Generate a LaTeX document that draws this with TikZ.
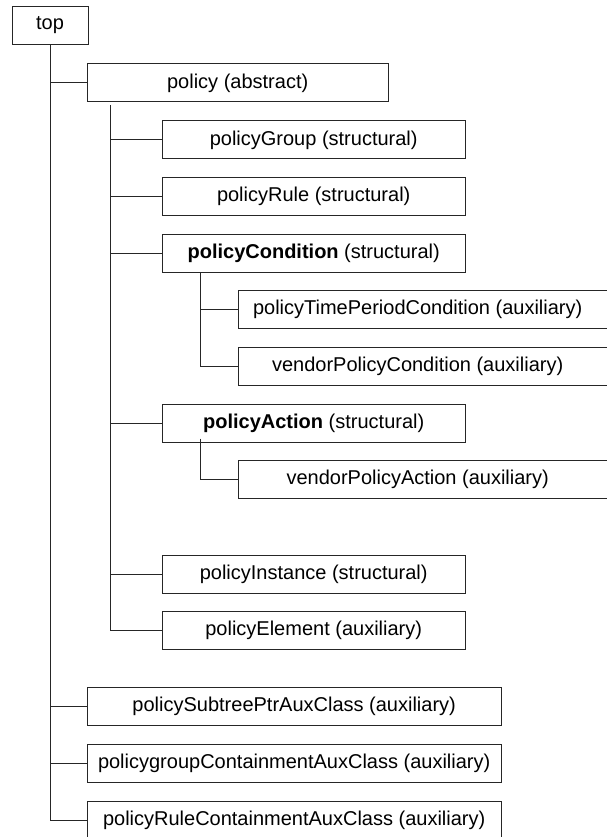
\documentclass[tikz,border=0pt]{standalone}
\usepackage{fontspec}
\setmainfont{Liberation Sans}
\begin{document}
\begin{tikzpicture}[x=1pt,y=-1pt,
  cls/.style={draw=black!85, line width=0.9pt, inner sep=0pt, minimum height=38pt,
              font=\fontsize{20}{24}\selectfont, text=black},
  lvlone/.style={cls, minimum width=413.7pt},
  lvltwo/.style={cls, minimum width=302.7pt},
  lvlthree/.style={cls, minimum width=370.7pt, execute at end node=\hspace*{12pt}},
  link/.style={draw=black!85, line width=0.9pt}]
\useasboundingbox (0,0) rectangle (607,837);
\clip (0,0) rectangle (607,837);

% root and first level
\node[cls, minimum width=76pt] (top) at (50,25) {top};
\node[cls, minimum width=300.7pt] (policy) at (237.7,82.9) {policy (abstract)};
\node[lvlone] (subtree) at (294.2,706) {policySubtreePtrAuxClass (auxiliary)};
\node[lvlone] (grpcont) at (294.2,763) {policygroupContainmentAuxClass (auxiliary)};
\node[lvlone] (rulecont) at (294.2,820) {policyRuleContainmentAuxClass (auxiliary)};

% second level
\node[lvltwo] (group) at (313.7,139.9) {policyGroup (structural)};
\node[lvltwo] (rule) at (313.7,196) {policyRule (structural)};
\node[lvltwo] (cond) at (313.7,253) {\textbf{policyCondition} (structural)};
\node[lvltwo] (action) at (313.7,423) {\textbf{policyAction} (structural)};
\node[lvltwo] (inst) at (313.7,574.2) {policyInstance (structural)};
\node[lvltwo] (elem) at (313.7,630.7) {policyElement (auxiliary)};

% third level
\node[lvlthree] (timecond) at (423.7,309.7) {policyTimePeriodCondition (auxiliary)};
\node[lvlthree] (vcond) at (423.7,366.7) {vendorPolicyCondition (auxiliary)};
\node[lvlthree] (vaction) at (423.7,479.6) {vendorPolicyAction (auxiliary)};

% trunk under top
\draw[link] (top.south) |- (rulecont.west);
\foreach \c in {policy,subtree,grpcont}
  \draw[link] (top.south |- \c.west) -- (\c.west);

% trunk under policy
\coordinate (ptrunk) at (110.5,105);
\draw[link] (ptrunk) |- (elem.west);
\foreach \c in {group,rule,cond,action,inst}
  \draw[link] (ptrunk |- \c.west) -- (\c.west);

% trunk under policyCondition
\coordinate (ctrunk) at (200.5,272);
\draw[link] (ctrunk) |- (vcond.west);
\draw[link] (ctrunk |- timecond.west) -- (timecond.west);

% trunk under policyAction
\coordinate (atrunk) at (200.5,438.5);
\draw[link] (atrunk) |- (vaction.west);
\end{tikzpicture}
\end{document}
